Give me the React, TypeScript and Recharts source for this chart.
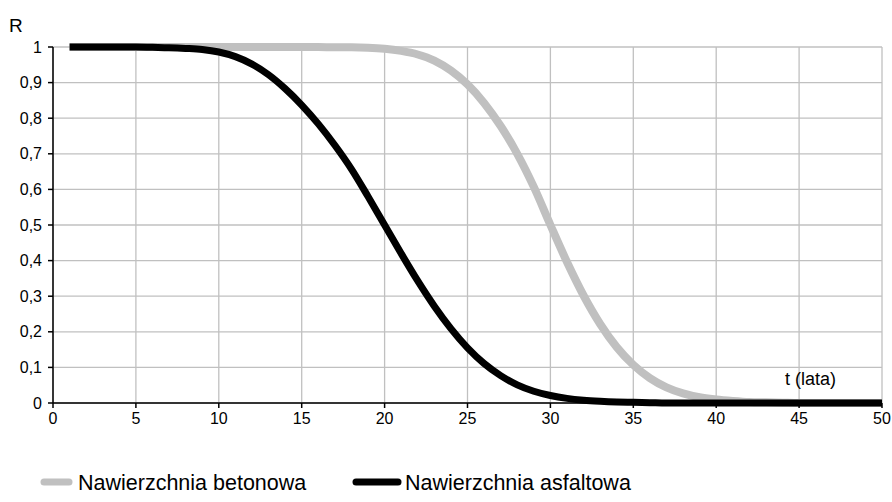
import React from "react";
import {
  CartesianGrid,
  Customized,
  Line,
  LineChart,
  XAxis,
  YAxis,
} from "recharts";

// t (lata) — years
const years = [
  1, 2, 3, 4, 5, 6, 7, 8, 9, 10, 11, 12, 13, 14, 15, 16, 17, 18, 19, 20, 21, 22, 23, 24, 25,
  26, 27, 28, 29, 30, 31, 32, 33, 34, 35, 36, 37, 38, 39, 40, 41, 42, 43, 44, 45, 46, 47, 48, 49, 50,
];

// R for concrete surface (grey)
const betonowa = [
  1, 1, 1, 1, 1, 1, 1, 1, 1, 1, 1, 1, 1, 1, 1, 1, 0.999, 0.999, 0.998, 0.995, 0.989, 0.979,
  0.962, 0.934, 0.895, 0.843, 0.778, 0.7, 0.607, 0.5, 0.396, 0.302, 0.222, 0.157, 0.107, 0.07,
  0.044, 0.027, 0.016, 0.01, 0.006, 0.003, 0.002, 0.001, 0, 0, 0, 0, 0, 0,
];

// R for asphalt surface (black)
const asfaltowa = [
  1, 1, 1, 1, 1, 0.999, 0.998, 0.996, 0.993, 0.986, 0.973, 0.952, 0.922, 0.883, 0.837, 0.784,
  0.724, 0.657, 0.58, 0.5, 0.42, 0.343, 0.272, 0.209, 0.155, 0.111, 0.077, 0.051, 0.033, 0.021,
  0.013, 0.008, 0.005, 0.003, 0.002, 0.001, 0, 0, 0, 0, 0, 0, 0, 0, 0, 0, 0, 0, 0, 0,
];

const xTicks = [0, 5, 10, 15, 20, 25, 30, 35, 40, 45, 50];
const yTicks = [0, 0.1, 0.2, 0.3, 0.4, 0.5, 0.6, 0.7, 0.8, 0.9, 1];

const GREY = "#c0c0c0";
const FONT = "Arial, 'Liberation Sans', sans-serif";

const rows = years.map((t, i) => ({ t, betonowa: betonowa[i], asfaltowa: asfaltowa[i] }));

function LegendRow() {
  return (
    <svg width={892} height={40} style={{ display: "block" }}>
      <line x1={44} y1={20} x2={69} y2={20} stroke={GREY} strokeWidth={7} strokeLinecap="round" />
      <text x={78} y={28} fontSize={21.5} fontFamily={FONT} fill="#000">
        Nawierzchnia betonowa
      </text>
      <line x1={356} y1={20} x2={398} y2={20} stroke="#000" strokeWidth={7} strokeLinecap="round" />
      <text x={405} y={28} fontSize={21.5} fontFamily={FONT} fill="#000">
        Nawierzchnia asfaltowa
      </text>
    </svg>
  );
}

export default function App() {
  return (
    <div style={{ position: "absolute", left: 0, top: 0, width: 892, height: 502, background: "#fff" }}>
      <LineChart
        width={892}
        height={502}
        data={rows}
        margin={{ top: 47, right: 10, bottom: 69, left: 13 }}
      >
        <CartesianGrid stroke={GREY} strokeWidth={1.3} />
        <XAxis
          type="number"
          dataKey="t"
          domain={[0, 50]}
          ticks={xTicks}
          interval={0}
          height={30}
          tickSize={5}
          tickMargin={5}
          axisLine={{ stroke: "#000", strokeWidth: 1.5 }}
          tickLine={{ stroke: "#000", strokeWidth: 1.5 }}
          tick={{ fill: "#000", fontSize: 16, fontFamily: FONT }}
        />
        <YAxis
          type="number"
          domain={[0, 1]}
          ticks={yTicks}
          interval={0}
          width={40}
          tickSize={5}
          tickMargin={6}
          axisLine={{ stroke: "#000", strokeWidth: 1.5 }}
          tickLine={{ stroke: "#000", strokeWidth: 1.5 }}
          tick={{ fill: "#000", fontSize: 16, fontFamily: FONT }}
          tickFormatter={(v) => String(Math.round(v * 10) / 10).replace(".", ",")}
        />
        <Line
          type="monotone"
          dataKey="betonowa"
          stroke={GREY}
          strokeWidth={8}
          dot={false}
          isAnimationActive={false}
        />
        <Line
          type="monotone"
          dataKey="asfaltowa"
          stroke="#000"
          strokeWidth={7}
          dot={false}
          isAnimationActive={false}
        />
        <Customized
          component={() => (
            <g fontFamily={FONT} fill="#000">
              <text x={9} y={32} fontSize={19}>R</text>
              <text x={785} y={385} fontSize={18}>t (lata)</text>
            </g>
          )}
        />
      </LineChart>
      <div style={{ position: "absolute", left: 0, top: 462 }}>
        <LegendRow />
      </div>
    </div>
  );
}
